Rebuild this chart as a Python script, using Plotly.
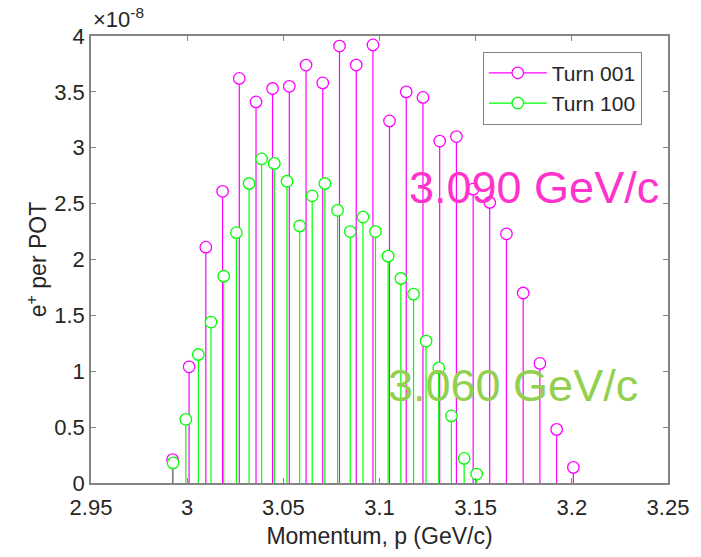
import plotly.graph_objects as go

# Momentum bins (GeV/c) and positron yield per proton on target (units of 1e-8)
p_turn001 = [2.9924, 3.0010, 3.0097, 3.0184, 3.0271, 3.0358, 3.0444, 3.0531, 3.0618,
             3.0705, 3.0792, 3.0879, 3.0966, 3.1052, 3.1139, 3.1226, 3.1313, 3.1400,
             3.1487, 3.1573, 3.1660, 3.1747, 3.1834, 3.1921, 3.2008]
yield_turn001 = [0.21, 1.04, 2.11, 2.61, 3.62, 3.41, 3.53, 3.55, 3.74, 3.58, 3.91, 3.74,
                 3.92, 3.24, 3.50, 3.45, 3.06, 3.10, 2.63, 2.51, 2.23, 1.70, 1.07, 0.48, 0.14]

p_turn100 = [2.9927, 2.9993, 3.0058, 3.0124, 3.0190, 3.0256, 3.0322, 3.0387, 3.0453,
             3.0519, 3.0585, 3.0650, 3.0716, 3.0782, 3.0848, 3.0914, 3.0979, 3.1045,
             3.1111, 3.1177, 3.1242, 3.1308, 3.1374, 3.1440, 3.1505]
yield_turn100 = [0.18, 0.57, 1.15, 1.44, 1.85, 2.24, 2.68, 2.90, 2.86, 2.70, 2.30, 2.57,
                 2.68, 2.44, 2.25, 2.38, 2.25, 2.03, 1.83, 1.69, 1.27, 1.03, 0.60, 0.22, 0.08]

x_ticks = [2.95, 3.00, 3.05, 3.10, 3.15, 3.20, 3.25]
x_tick_labels = ["2.95", "3", "3.05", "3.1", "3.15", "3.2", "3.25"]
y_ticks = [0, 0.5, 1, 1.5, 2, 2.5, 3, 3.5, 4]
y_tick_labels = ["0", "0.5", "1", "1.5", "2", "2.5", "3", "3.5", "4"]

series = [
    ("Turn 001", p_turn001, yield_turn001, "#FF00FF"),
    ("Turn 100", p_turn100, yield_turn100, "#00FF00"),
]

FONT = "Liberation Sans, Arial, Helvetica, sans-serif"
TXT = "#262626"
AX = "#858585"

fig = go.Figure()

# stems: vertical segments from zero up to each value
for name, xs, ys, col in series:
    sx, sy = [], []
    for xv, yv in zip(xs, ys):
        sx += [xv, xv, None]
        sy += [0, yv, None]
    fig.add_trace(go.Scatter(x=sx, y=sy, mode="lines", showlegend=False,
                             line=dict(color=col, width=1.2), hoverinfo="skip"))

# open circle heads on top of the stems
for name, xs, ys, col in series:
    fig.add_trace(go.Scatter(x=xs, y=ys, mode="markers", showlegend=False, name=name,
                             marker=dict(symbol="circle", size=11.5, color="white",
                                         line=dict(color=col, width=1.3))))

# legend entries (line with circle marker)
for name, xs, ys, col in series:
    fig.add_trace(go.Scatter(x=[None], y=[None], mode="lines+markers", name=name,
                             line=dict(color=col, width=1.2),
                             marker=dict(symbol="circle", size=11.5, color="white",
                                         line=dict(color=col, width=1.3))))

fig.update_xaxes(range=[2.95, 3.25], tickvals=x_ticks, ticktext=x_tick_labels,
                 ticks="inside", ticklen=5, tickcolor=AX, showline=True, linecolor=AX,
                 linewidth=1.5, mirror="ticks", showgrid=False, zeroline=False,
                 ticklabelstandoff=4,
                 tickfont=dict(family=FONT, size=22, color=TXT),
                 title=dict(text="Momentum, p (GeV/c)", standoff=9,
                            font=dict(family=FONT, size=23, color=TXT)))
fig.update_yaxes(range=[0, 4], tickvals=y_ticks, ticktext=y_tick_labels,
                 ticks="inside", ticklen=5, tickcolor=AX, showline=True, linecolor=AX,
                 linewidth=1.5, mirror="ticks", showgrid=False, zeroline=False,
                 tickfont=dict(family=FONT, size=22, color=TXT),
                 title=dict(text="e<sup>+</sup> per POT", standoff=1,
                            font=dict(family=FONT, size=23, color=TXT)))

fig.add_annotation(text="\u00d710<sup>-8</sup>", xref="paper", yref="paper",
                   x=0.0, y=1.005, xanchor="left", yanchor="bottom", showarrow=False,
                   font=dict(family=FONT, size=22, color=TXT))
fig.add_annotation(text="3.090 GeV/c", xref="paper", yref="paper",
                   x=0.547, y=0.662, xanchor="left", yanchor="middle", showarrow=False,
                   font=dict(family=FONT, size=45, color="#FF33CC"))
fig.add_annotation(text="3.060 GeV/c", xref="paper", yref="paper",
                   x=0.511, y=0.218, xanchor="left", yanchor="middle", showarrow=False,
                   font=dict(family=FONT, size=45, color="#92D050"))

fig.update_layout(
    width=701, height=557,
    margin=dict(l=91, r=27, t=36, b=71),
    paper_bgcolor="white", plot_bgcolor="white",
    legend=dict(x=0.679, y=0.965, xanchor="left", yanchor="top",
                bgcolor="white", bordercolor="#808080", borderwidth=1,
                itemwidth=58,
                font=dict(family=FONT, size=21, color=TXT), tracegroupgap=0),
)

fig.write_html("out.html")
